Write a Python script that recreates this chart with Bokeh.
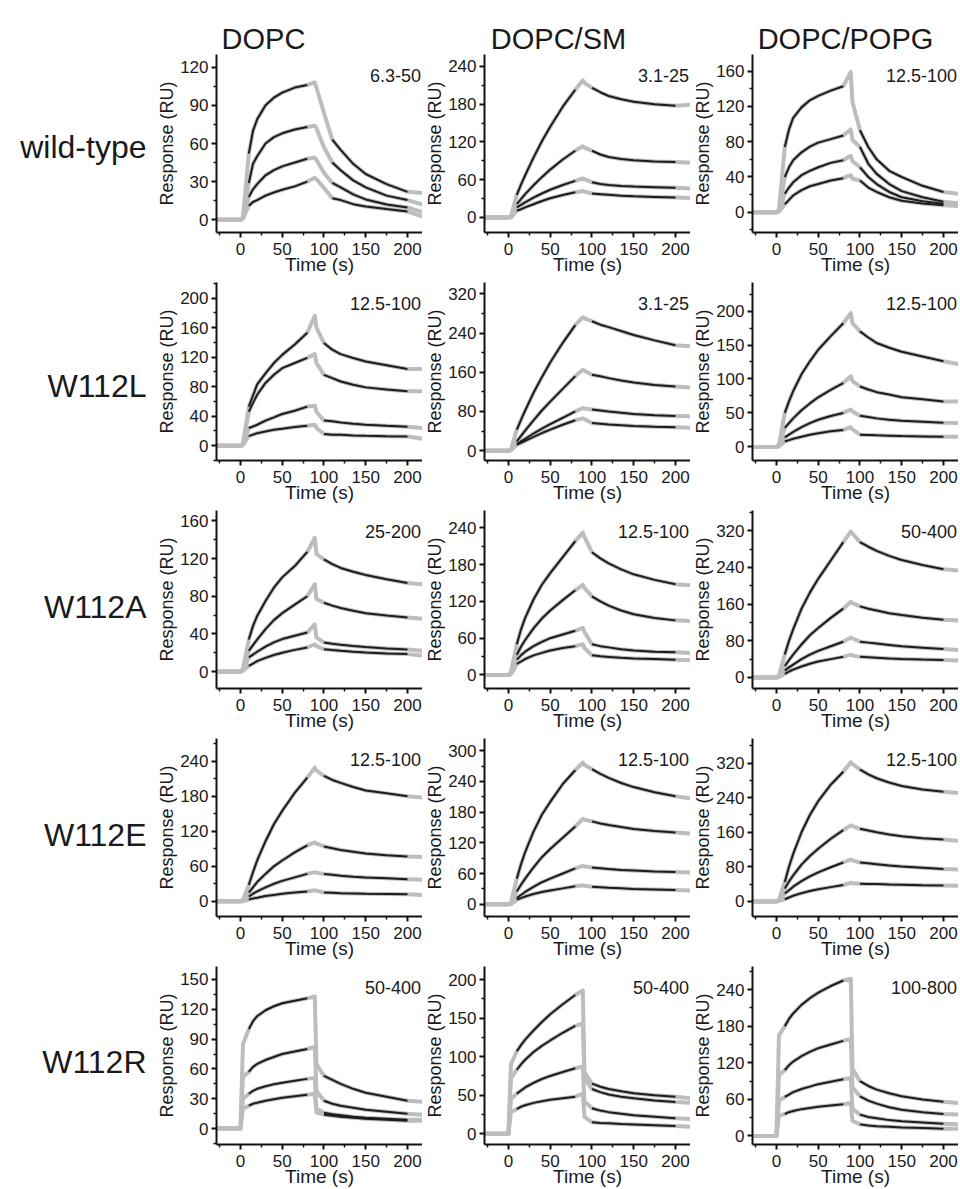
from bokeh.plotting import figure
from bokeh.layouts import column, row
from bokeh.models import FixedTicker, Range1d, Label
from bokeh.embed import file_html
from bokeh.resources import INLINE

# ---------------- data ----------------
COLUMNS = ["DOPC", "DOPC/SM", "DOPC/POPG"]
ROWS = ["wild-type", "W112L", "W112A", "W112E", "W112R"]

T_BASE = [-29, 0]
BASE = [0, 0]
T_ASSOC = [3, 10, 15, 20, 30, 40, 50, 65, 80, 89]
T_DISSOC = [91, 100, 110, 120, 135, 150, 175, 200, 218]

X_TICKS = [0, 50, 100, 150, 200]
X_MINOR = [-25, 25, 75, 125, 175]

# wild-type
WT_DOPC_ASSOC = [[2, 52, 70, 79, 90, 96, 100, 104, 106, 108],
                 [1, 29, 44, 50, 60, 65, 68, 71, 73, 74],
                 [1, 18, 24, 28, 35, 39, 42, 45, 48, 49],
                 [1, 11, 14, 15.5, 19, 21.5, 23.6, 26.3, 30, 33]]
WT_DOPC_DISSOC = [[104, 84, 63, 55, 44, 36, 28, 22, 21],
                  [72, 57, 45, 39, 31, 25.5, 19, 15.5, 12],
                  [47, 37, 29, 25.5, 20, 16, 12, 9.7, 6],
                  [32, 25, 17, 15.5, 12.3, 10.5, 8.4, 6.6, 2.4]]
WT_SM_ASSOC = [[2, 36, 52, 67, 95, 121, 144, 176, 203, 218],
               [1, 21, 29, 37, 51, 64, 76, 92, 106, 113],
               [1, 16, 20, 24, 31.5, 38, 44, 51.5, 58, 62],
               [0, 10.6, 13, 16, 21, 26, 30.5, 35.5, 40, 42]]
WT_SM_DISSOC = [[214, 206, 199, 193, 188, 184, 180, 177.5, 179],
                [111, 106, 100, 96, 93, 91, 89, 88, 87],
                [61, 56, 53, 51.5, 50, 49, 48, 47, 46],
                [41, 38, 37, 36, 34.5, 33.5, 32.5, 31.5, 31]]
WT_PG_ASSOC = [[3, 74, 94, 107, 119, 127, 132, 138, 143, 159],
               [2, 40, 51, 59, 68, 74.5, 79, 83, 87, 94],
               [1, 21, 28, 34, 42, 47, 51, 56, 59, 64],
               [1, 9, 14, 19, 25, 29.5, 32, 36, 38.6, 42]]
WT_PG_DISSOC = [[125, 93, 74, 60, 47, 40, 30, 23, 21],
                [82, 74, 55, 43.5, 32, 24, 17, 12, 10],
                [58, 51, 40, 32, 23, 17, 12.5, 9.5, 9],
                [38, 36, 28, 23, 17, 13, 10, 8, 7]]
# W112L
L_DOPC_ASSOC = [[2, 53, 68, 83, 98, 112, 123, 137, 153, 176],
                [2, 46, 58, 69, 85, 96, 105, 112, 119, 124],
                [1, 24, 26, 28.4, 34, 38.4, 43, 47.4, 53, 54],
                [1, 13, 15, 17, 19.4, 21.7, 23, 25.3, 27, 28.4]]
L_DOPC_DISSOC = [[160, 139, 130, 124, 118.7, 114, 109, 104, 104],
                 [112, 96, 91.6, 87, 82.6, 79, 76, 73.6, 73.6],
                 [46, 34, 33, 31.6, 29.8, 28.4, 27, 25.7, 24],
                 [24, 15.8, 15, 15, 14, 13.5, 13, 12.6, 9.5]]
L_SM_ASSOC = [[3, 43, 63, 82, 118, 150, 180, 220, 256, 272],
              [2, 19, 30, 41, 62, 82, 100, 126, 152, 165],
              [1, 14, 19, 24, 35, 45, 54, 67, 80, 87],
              [1, 12, 16, 20, 28, 36, 43, 53, 62, 66]]
L_SM_DISSOC = [[270, 264, 257, 252, 244, 236, 225, 215, 213],
               [163, 155, 152, 148, 143, 139, 134, 131, 129],
               [86, 84, 82, 80, 77.5, 75, 72.5, 71, 70],
               [64, 56.5, 55, 53.5, 52, 50.5, 49, 48, 47]]
L_PG_ASSOC = [[3, 50, 67, 82, 107, 126, 143, 163, 182, 197],
              [2, 28, 35, 42, 54, 64, 73, 84, 94, 104],
              [1, 14, 18, 22, 29, 35, 40, 45.5, 50, 55],
              [1, 8, 10, 12, 15, 18, 20, 23, 25, 29]]
L_PG_DISSOC = [[182, 170, 161, 153, 146, 140, 133, 126, 122],
               [97, 89, 84.5, 80.6, 77, 73, 70, 67, 67],
               [52, 46, 44, 42, 40, 38.5, 37, 35.5, 35],
               [26, 18, 17.5, 17, 16.5, 16, 15.5, 15, 15]]
# W112A
A_DOPC_ASSOC = [[3, 34, 48.5, 59, 75, 89, 100, 112, 127, 142],
                [2, 22, 28, 34, 45, 54.6, 62, 71, 80, 92.7],
                [1, 15, 18, 21, 26.5, 31, 34.5, 38, 41.4, 50],
                [1, 6, 8.5, 11, 14.5, 17.5, 20, 23, 25.5, 29]]
A_DOPC_DISSOC = [[125, 119, 114, 110, 106, 102.6, 98, 94, 92.7],
                 [77, 73, 70, 67.5, 64.5, 62, 59.5, 57.5, 56],
                 [36, 30.8, 29.5, 28.5, 27.2, 26, 24.5, 23.5, 22],
                 [27, 23.7, 22.8, 22, 21, 20.2, 19.2, 18.5, 17]]
A_SM_ASSOC = [[5, 50, 74, 93, 123, 147, 166, 192, 218, 232],
              [3, 33, 46, 57, 76, 92, 105, 122, 138, 147],
              [2, 25, 32, 38, 47, 54, 60, 66, 72, 77],
              [1, 18, 22, 26, 32, 36, 40, 44, 47, 50]]
A_SM_DISSOC = [[225, 200, 190, 182, 172, 164, 155, 148, 146],
               [142, 128, 120, 113, 105, 99, 93, 89, 88],
               [70, 50, 47, 45, 42, 40, 38, 37, 36],
               [44, 32, 30.5, 29.5, 28, 27, 26, 25, 24]]
A_PG_ASSOC = [[5, 50, 80, 105, 150, 185, 215, 255, 295, 318],
              [3, 25, 38, 50, 72, 92, 108, 130, 150, 165],
              [2, 15, 22, 28, 40, 50, 58, 68, 78, 87],
              [1, 8, 13, 17, 24, 30, 35, 40, 45, 50]]
A_PG_DISSOC = [[314, 295, 285, 276, 265, 256, 245, 236, 233],
               [162, 155, 150, 146, 140, 136, 130, 126, 124],
               [85, 78, 76, 74, 71, 68, 65, 62, 60],
               [48, 45, 44, 43, 41.5, 40.5, 39, 38, 37]]
# W112E
E_DOPC_ASSOC = [[3, 28, 50, 70, 103, 132, 155, 186, 212, 229],
                [2, 15, 24, 33, 47, 60, 70, 84, 96, 101],
                [1, 8, 13, 17, 24, 30, 35, 41, 47, 50],
                [0, 3, 5, 6, 9, 11, 13, 15, 17, 19]]
E_DOPC_DISSOC = [[224, 215, 208, 203, 196, 190, 185, 180, 178],
                 [99, 94, 91, 88, 85, 82, 79, 77, 76],
                 [49, 47, 45.5, 44, 42, 41, 39.5, 38, 37],
                 [18, 15, 14.5, 14, 13.5, 13, 12.5, 12, 11]]
E_SM_ASSOC = [[4, 50, 78, 102, 142, 175, 200, 235, 262, 277],
              [2, 25, 38, 50, 72, 92, 108, 130, 152, 167],
              [1, 12, 18, 24, 34, 43, 50, 60, 70, 75],
              [0, 9, 12, 15, 20, 24, 27, 31, 35, 37]]
E_SM_DISSOC = [[272, 264, 255, 247, 237, 229, 219, 211, 207],
               [165, 162, 158, 155, 151, 147, 143, 140, 138],
               [74, 72, 70.5, 69, 67, 66, 64, 63, 62],
               [36, 34, 33, 32, 31, 30, 29, 28, 27]]
E_PG_ASSOC = [[4, 45, 80, 110, 160, 200, 232, 270, 300, 322],
              [3, 30, 46, 60, 85, 105, 122, 145, 165, 176],
              [2, 18, 26, 34, 47, 58, 67, 79, 90, 97],
              [1, 5, 9, 13, 19, 24, 28, 33, 38, 43]]
E_PG_DISSOC = [[318, 305, 294, 285, 275, 267, 259, 254, 251],
               [174, 168, 164, 160, 155, 151, 146, 143, 140],
               [95, 90, 88, 86, 83, 81, 78, 75, 74],
               [42, 41, 40.5, 40, 39, 38.5, 37.5, 37, 36]]
# W112R
R_DOPC_ASSOC = [[85, 100, 108, 113, 119, 123, 126, 128.5, 131, 133],
                [52, 57, 62, 65, 69, 72, 75, 77.5, 80, 82],
                [30, 35, 38, 40, 42.5, 44.5, 46, 48, 50, 51],
                [20, 23, 25, 26, 28, 29.5, 31, 32.5, 34, 35]]
R_DOPC_DISSOC = [[65, 53, 49, 45, 40, 36, 32, 28, 27],
                 [38, 28, 25, 23, 21, 19, 17, 15, 14],
                 [20, 16, 14.5, 13.5, 12, 11, 10, 9, 9],
                 [16, 14, 13, 12, 11, 10, 9, 8, 8]]
R_SM_ASSOC = [[90, 107, 115, 122, 134, 145, 155, 168, 180, 186],
              [72, 83, 90, 96, 106, 114, 121, 131, 140, 143],
              [45, 52, 56, 60, 66, 71, 75, 80, 85, 87],
              [28, 32, 35, 37, 40, 42, 44, 46, 48, 52]]
R_SM_DISSOC = [[80, 65, 61, 58, 55, 52.5, 50, 48, 46],
               [72, 58, 54, 51, 48, 46, 43, 41, 40],
               [42, 33, 30, 28, 26, 24, 22, 20, 19],
               [22, 15, 14, 13.5, 12.5, 12, 11, 10, 9]]
R_PG_ASSOC = [[165, 180, 192, 201, 215, 226, 235, 246, 255, 258],
              [100, 108, 116, 122, 131, 138, 144, 150, 156, 159],
              [58, 64, 68, 72, 77, 81, 85, 89, 93, 95],
              [33, 36, 39, 41, 44, 46, 48, 50, 52, 54]]
R_PG_DISSOC = [[110, 90, 82, 76, 70, 65, 60, 56, 54],
               [80, 65, 58, 53, 47, 43, 39, 36, 35],
               [45, 35, 31, 29, 26, 24, 22, 20, 19],
               [25, 19, 17, 16, 15, 14, 13, 12, 12]]

ASSOC = [[WT_DOPC_ASSOC, WT_SM_ASSOC, WT_PG_ASSOC],
         [L_DOPC_ASSOC, L_SM_ASSOC, L_PG_ASSOC],
         [A_DOPC_ASSOC, A_SM_ASSOC, A_PG_ASSOC],
         [E_DOPC_ASSOC, E_SM_ASSOC, E_PG_ASSOC],
         [R_DOPC_ASSOC, R_SM_ASSOC, R_PG_ASSOC]]
DISSOC = [[WT_DOPC_DISSOC, WT_SM_DISSOC, WT_PG_DISSOC],
          [L_DOPC_DISSOC, L_SM_DISSOC, L_PG_DISSOC],
          [A_DOPC_DISSOC, A_SM_DISSOC, A_PG_DISSOC],
          [E_DOPC_DISSOC, E_SM_DISSOC, E_PG_DISSOC],
          [R_DOPC_DISSOC, R_SM_DISSOC, R_PG_DISSOC]]

Y_LIMITS = [[(-10, 130), (-24, 259), (-23, 179)],
            [(-20, 221), (-20, 343), (-20, 242)],
            [(-18, 171), (-22, 268), (-24, 364)],
            [(-26, 279), (-24, 324), (-35, 377)],
            [(-16, 163), (-14, 217), (-14, 278)]]
Y_TICKS = [[[0, 30, 60, 90, 120], [0, 60, 120, 180, 240], [0, 40, 80, 120, 160]],
           [[0, 40, 80, 120, 160, 200], [0, 80, 160, 240, 320], [0, 50, 100, 150, 200]],
           [[0, 40, 80, 120, 160], [0, 60, 120, 180, 240], [0, 80, 160, 240, 320]],
           [[0, 60, 120, 180, 240], [0, 60, 120, 180, 240, 300], [0, 80, 160, 240, 320]],
           [[0, 30, 60, 90, 120, 150], [0, 50, 100, 150, 200], [0, 60, 120, 180, 240]]]
CONC = [["6.3-50", "3.1-25", "12.5-100"],
        ["12.5-100", "3.1-25", "12.5-100"],
        ["25-200", "12.5-100", "50-400"],
        ["12.5-100", "12.5-100", "12.5-100"],
        ["50-400", "50-400", "100-800"]]
FIT_DISSOC_FROM = [[2, 1, 1], [1, 1, 1], [1, 1, 1], [1, 1, 1], [1, 1, 1]]

# ---------------- style / layout ----------------
FONT = "Liberation Sans"
GRAY = "#bdbdbd"
BLACK = "#1c1c1c"
FW, FH = 206, 178
BL, BT, BB = 61, 0, 50
ROW_H = BT + FH + BB
LABEL_W = 154
HEADER_H = 54
X_RANGE = (-28.7, 218)
ROW_LABEL_Y = [110, 95, 105, 104, 106]
ROW_LABEL_X = 146
HEADER_X = [263, 558, 845]
HEADER_Y = 16


def make_panel(r, c):
    ylo, yhi = Y_LIMITS[r][c]
    p = figure(frame_width=FW, frame_height=FH,
               x_range=Range1d(*X_RANGE), y_range=Range1d(ylo, yhi),
               output_backend="svg", toolbar_location=None,
               min_border_left=BL, min_border_right=0,
               min_border_top=BT, min_border_bottom=BB,
               x_axis_label="Time (s)", y_axis_label="Response (RU)")
    p.grid.visible = False
    p.outline_line_color = None
    p.background_fill_color = "white"
    p.border_fill_color = "white"
    ticks = Y_TICKS[r][c]
    step = ticks[1] - ticks[0]
    minors = [t - step / 2 for t in ticks] + [ticks[-1] + step / 2]
    p.yaxis.ticker = FixedTicker(ticks=ticks, minor_ticks=minors)
    p.xaxis.ticker = FixedTicker(ticks=X_TICKS, minor_ticks=X_MINOR)
    for ax in (p.xaxis[0], p.yaxis[0]):
        ax.axis_line_width = 2
        ax.axis_line_color = "#111111"
        ax.major_tick_line_width = 2
        ax.major_tick_line_color = "#111111"
        ax.minor_tick_line_width = 1.5
        ax.minor_tick_line_color = "#111111"
        ax.major_tick_in = 0
        ax.major_tick_out = 5
        ax.minor_tick_in = 0
        ax.minor_tick_out = 3
        ax.major_label_text_font = FONT
        ax.major_label_text_font_size = "17px"
        ax.major_label_text_color = "#1a1a1a"
        ax.axis_label_text_font = FONT
        ax.axis_label_text_font_style = "normal"
        ax.axis_label_text_color = "#1a1a1a"
    p.yaxis[0].major_label_standoff = 3
    p.yaxis[0].axis_label_standoff = 0
    p.yaxis[0].axis_label_text_font_size = "18px"
    p.xaxis[0].major_label_standoff = 5
    p.xaxis[0].axis_label_standoff = -4
    p.xaxis[0].axis_label_text_font_size = "19px"

    assoc = ASSOC[r][c]
    dissoc = DISSOC[r][c]
    for k in range(4):
        p.line(T_BASE + T_ASSOC + T_DISSOC, BASE + assoc[k] + dissoc[k],
               line_color=GRAY, line_width=4, line_join="round")
    f = FIT_DISSOC_FROM[r][c]
    for k in range(4):
        p.line(T_ASSOC[1:9], assoc[k][1:9], line_color=BLACK, line_width=2)
        p.line(T_DISSOC[f:8], dissoc[k][f:8], line_color=BLACK, line_width=2)

    ytxt = yhi - (yhi - ylo) * 21.0 / FH
    xtxt = X_RANGE[1] - 1.5 / (FW / (X_RANGE[1] - X_RANGE[0]))
    p.add_layout(Label(x=xtxt, y=ytxt, text=CONC[r][c], text_align="right",
                       text_baseline="alphabetic", text_font=FONT,
                       text_font_size="18px", text_color="#1a1a1a"))
    return p


def blank(width, height):
    p = figure(width=width, height=height, x_range=Range1d(0, width),
               y_range=Range1d(0, height), output_backend="svg",
               toolbar_location=None, min_border=0,
               x_axis_type=None, y_axis_type=None)
    p.grid.visible = False
    p.outline_line_color = None
    return p


total_w = LABEL_W + 3 * (BL + FW)
header = blank(total_w, HEADER_H)
for name, hx in zip(COLUMNS, HEADER_X):
    header.add_layout(Label(x=hx, y=HEADER_Y, text=name, text_align="center",
                            text_baseline="alphabetic", text_font=FONT,
                            text_font_size="29px", text_color="#1a1a1a"))

rows = [header]
for r, name in enumerate(ROWS):
    lab = blank(LABEL_W, ROW_H)
    lab.add_layout(Label(x=ROW_LABEL_X, y=ROW_LABEL_Y[r], text=name,
                         text_align="right", text_baseline="alphabetic",
                         text_font=FONT, text_font_size="32px",
                         text_color="#1a1a1a"))
    rows.append(row(lab, *[make_panel(r, c) for c in range(3)]))

layout = column(*rows)
open("out.html", "w").write(file_html(layout, INLINE))
